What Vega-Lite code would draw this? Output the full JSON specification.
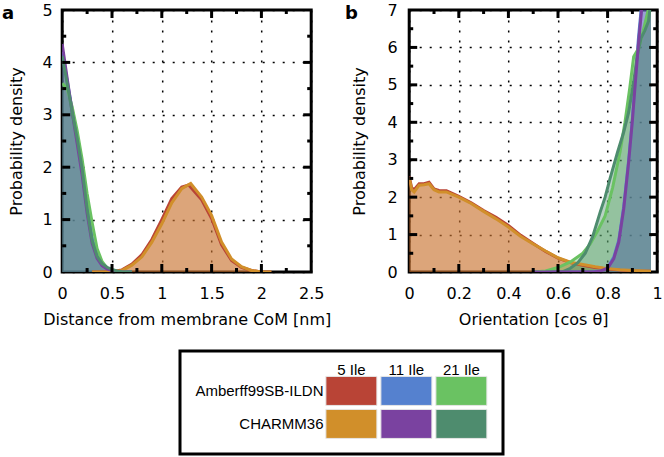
{
  "$schema": "https://vega.github.io/schema/vega-lite/v6.json",
  "background": "white",
  "padding": {"left": 0, "top": 0, "right": 0, "bottom": 0},
  "config": {
    "font": "DejaVu Sans",
    "view": {"stroke": "black", "strokeWidth": 3},
    "axis": {
      "labelFont": "DejaVu Sans", "labelFontSize": 16, "labelColor": "black",
      "titleFont": "DejaVu Sans", "titleFontSize": 16, "titleFontWeight": "normal", "titleColor": "black",
      "domain": false, "gridColor": "black", "gridDash": [2, 8], "gridWidth": 1.5, "gridOpacity": 1,
      "tickColor": "black", "labelFlush": false, "labelOverlap": false
    }
  },
  "datasets": {
    "a": [
      {"s": "A5", "x": 0.3, "y": 0}, {"s": "A5", "x": 0.4, "y": 0}, {"s": "A5", "x": 0.5, "y": 0.01}, {"s": "A5", "x": 0.6, "y": 0.04}, {"s": "A5", "x": 0.7, "y": 0.15}, {"s": "A5", "x": 0.8, "y": 0.33}, {"s": "A5", "x": 0.9, "y": 0.62}, {"s": "A5", "x": 1.0, "y": 1.0}, {"s": "A5", "x": 1.1, "y": 1.4}, {"s": "A5", "x": 1.2, "y": 1.62}, {"s": "A5", "x": 1.27, "y": 1.66}, {"s": "A5", "x": 1.4, "y": 1.38}, {"s": "A5", "x": 1.5, "y": 1.02}, {"s": "A5", "x": 1.6, "y": 0.52}, {"s": "A5", "x": 1.7, "y": 0.22}, {"s": "A5", "x": 1.8, "y": 0.09}, {"s": "A5", "x": 1.9, "y": 0.03}, {"s": "A5", "x": 2.0, "y": 0}, {"s": "A5", "x": 2.1, "y": 0},
      {"s": "C5", "x": 0.3, "y": 0}, {"s": "C5", "x": 0.4, "y": 0}, {"s": "C5", "x": 0.5, "y": 0.005}, {"s": "C5", "x": 0.6, "y": 0.03}, {"s": "C5", "x": 0.7, "y": 0.13}, {"s": "C5", "x": 0.8, "y": 0.29}, {"s": "C5", "x": 0.9, "y": 0.57}, {"s": "C5", "x": 1.0, "y": 0.92}, {"s": "C5", "x": 1.1, "y": 1.32}, {"s": "C5", "x": 1.2, "y": 1.59}, {"s": "C5", "x": 1.29, "y": 1.69}, {"s": "C5", "x": 1.4, "y": 1.43}, {"s": "C5", "x": 1.5, "y": 1.08}, {"s": "C5", "x": 1.6, "y": 0.57}, {"s": "C5", "x": 1.7, "y": 0.25}, {"s": "C5", "x": 1.8, "y": 0.1}, {"s": "C5", "x": 1.9, "y": 0.03}, {"s": "C5", "x": 2.0, "y": 0}, {"s": "C5", "x": 2.1, "y": 0},
      {"s": "A21", "x": 0, "y": 3.6}, {"s": "A21", "x": 0.05, "y": 3.5}, {"s": "A21", "x": 0.1, "y": 3.15}, {"s": "A21", "x": 0.15, "y": 2.7}, {"s": "A21", "x": 0.2, "y": 2.15}, {"s": "A21", "x": 0.25, "y": 1.5}, {"s": "A21", "x": 0.3, "y": 0.95}, {"s": "A21", "x": 0.35, "y": 0.45}, {"s": "A21", "x": 0.4, "y": 0.2}, {"s": "A21", "x": 0.45, "y": 0.08}, {"s": "A21", "x": 0.5, "y": 0.03}, {"s": "A21", "x": 0.55, "y": 0.01}, {"s": "A21", "x": 0.6, "y": 0}, {"s": "A21", "x": 0.7, "y": 0},
      {"s": "C11", "x": 0, "y": 4.35}, {"s": "C11", "x": 0.05, "y": 3.7}, {"s": "C11", "x": 0.1, "y": 3.05}, {"s": "C11", "x": 0.15, "y": 2.45}, {"s": "C11", "x": 0.2, "y": 1.85}, {"s": "C11", "x": 0.25, "y": 1.12}, {"s": "C11", "x": 0.3, "y": 0.55}, {"s": "C11", "x": 0.35, "y": 0.26}, {"s": "C11", "x": 0.4, "y": 0.12}, {"s": "C11", "x": 0.45, "y": 0.06}, {"s": "C11", "x": 0.5, "y": 0.03}, {"s": "C11", "x": 0.55, "y": 0.01}, {"s": "C11", "x": 0.6, "y": 0}, {"s": "C11", "x": 0.7, "y": 0},
      {"s": "A11", "x": 0, "y": 4.2}, {"s": "A11", "x": 0.05, "y": 3.65}, {"s": "A11", "x": 0.1, "y": 3.1}, {"s": "A11", "x": 0.15, "y": 2.55}, {"s": "A11", "x": 0.2, "y": 2.0}, {"s": "A11", "x": 0.25, "y": 1.3}, {"s": "A11", "x": 0.3, "y": 0.65}, {"s": "A11", "x": 0.35, "y": 0.32}, {"s": "A11", "x": 0.4, "y": 0.15}, {"s": "A11", "x": 0.45, "y": 0.07}, {"s": "A11", "x": 0.5, "y": 0.03}, {"s": "A11", "x": 0.55, "y": 0.01}, {"s": "A11", "x": 0.6, "y": 0}, {"s": "A11", "x": 0.7, "y": 0},
      {"s": "C21", "x": 0, "y": 4.12}, {"s": "C21", "x": 0.05, "y": 3.6}, {"s": "C21", "x": 0.1, "y": 3.05}, {"s": "C21", "x": 0.15, "y": 2.55}, {"s": "C21", "x": 0.2, "y": 1.97}, {"s": "C21", "x": 0.25, "y": 1.2}, {"s": "C21", "x": 0.3, "y": 0.6}, {"s": "C21", "x": 0.35, "y": 0.3}, {"s": "C21", "x": 0.4, "y": 0.16}, {"s": "C21", "x": 0.45, "y": 0.09}, {"s": "C21", "x": 0.5, "y": 0.05}, {"s": "C21", "x": 0.55, "y": 0.02}, {"s": "C21", "x": 0.6, "y": 0.005}, {"s": "C21", "x": 0.7, "y": 0}
    ],
    "b": [
      {"s": "A5", "x": 0, "y": 2.55}, {"s": "A5", "x": 0.01, "y": 2.25}, {"s": "A5", "x": 0.02, "y": 2.2}, {"s": "A5", "x": 0.04, "y": 2.36}, {"s": "A5", "x": 0.06, "y": 2.36}, {"s": "A5", "x": 0.08, "y": 2.4}, {"s": "A5", "x": 0.1, "y": 2.22}, {"s": "A5", "x": 0.12, "y": 2.18}, {"s": "A5", "x": 0.15, "y": 2.17}, {"s": "A5", "x": 0.2, "y": 2.02}, {"s": "A5", "x": 0.25, "y": 1.85}, {"s": "A5", "x": 0.3, "y": 1.64}, {"s": "A5", "x": 0.35, "y": 1.46}, {"s": "A5", "x": 0.4, "y": 1.24}, {"s": "A5", "x": 0.45, "y": 0.98}, {"s": "A5", "x": 0.5, "y": 0.76}, {"s": "A5", "x": 0.55, "y": 0.55}, {"s": "A5", "x": 0.6, "y": 0.37}, {"s": "A5", "x": 0.65, "y": 0.25}, {"s": "A5", "x": 0.7, "y": 0.18}, {"s": "A5", "x": 0.75, "y": 0.12}, {"s": "A5", "x": 0.8, "y": 0.08}, {"s": "A5", "x": 0.85, "y": 0.05}, {"s": "A5", "x": 0.9, "y": 0.03}, {"s": "A5", "x": 0.95, "y": 0.02}, {"s": "A5", "x": 0.975, "y": 0.02},
      {"s": "C5", "x": 0, "y": 2.52}, {"s": "C5", "x": 0.01, "y": 2.2}, {"s": "C5", "x": 0.02, "y": 2.14}, {"s": "C5", "x": 0.04, "y": 2.32}, {"s": "C5", "x": 0.06, "y": 2.33}, {"s": "C5", "x": 0.08, "y": 2.36}, {"s": "C5", "x": 0.1, "y": 2.2}, {"s": "C5", "x": 0.12, "y": 2.14}, {"s": "C5", "x": 0.15, "y": 2.14}, {"s": "C5", "x": 0.2, "y": 2.0}, {"s": "C5", "x": 0.25, "y": 1.83}, {"s": "C5", "x": 0.3, "y": 1.62}, {"s": "C5", "x": 0.35, "y": 1.42}, {"s": "C5", "x": 0.4, "y": 1.2}, {"s": "C5", "x": 0.45, "y": 0.95}, {"s": "C5", "x": 0.5, "y": 0.75}, {"s": "C5", "x": 0.55, "y": 0.56}, {"s": "C5", "x": 0.6, "y": 0.38}, {"s": "C5", "x": 0.65, "y": 0.26}, {"s": "C5", "x": 0.7, "y": 0.2}, {"s": "C5", "x": 0.75, "y": 0.14}, {"s": "C5", "x": 0.8, "y": 0.09}, {"s": "C5", "x": 0.85, "y": 0.06}, {"s": "C5", "x": 0.9, "y": 0.04}, {"s": "C5", "x": 0.95, "y": 0.03}, {"s": "C5", "x": 0.975, "y": 0.02},
      {"s": "A21", "x": 0.5, "y": 0}, {"s": "A21", "x": 0.55, "y": 0.03}, {"s": "A21", "x": 0.6, "y": 0.12}, {"s": "A21", "x": 0.65, "y": 0.27}, {"s": "A21", "x": 0.7, "y": 0.5}, {"s": "A21", "x": 0.73, "y": 0.75}, {"s": "A21", "x": 0.76, "y": 1.1}, {"s": "A21", "x": 0.79, "y": 1.5}, {"s": "A21", "x": 0.82, "y": 2.25}, {"s": "A21", "x": 0.85, "y": 3.2}, {"s": "A21", "x": 0.87, "y": 4.0}, {"s": "A21", "x": 0.89, "y": 4.95}, {"s": "A21", "x": 0.905, "y": 5.75}, {"s": "A21", "x": 0.925, "y": 5.98}, {"s": "A21", "x": 0.94, "y": 6.35}, {"s": "A21", "x": 0.96, "y": 6.9}, {"s": "A21", "x": 0.975, "y": 7.3},
      {"s": "C11", "x": 0.5, "y": 0}, {"s": "C11", "x": 0.7, "y": 0}, {"s": "C11", "x": 0.74, "y": 0}, {"s": "C11", "x": 0.77, "y": 0.02}, {"s": "C11", "x": 0.8, "y": 0.1}, {"s": "C11", "x": 0.825, "y": 0.36}, {"s": "C11", "x": 0.845, "y": 0.8}, {"s": "C11", "x": 0.865, "y": 1.69}, {"s": "C11", "x": 0.885, "y": 2.94}, {"s": "C11", "x": 0.9, "y": 4.05}, {"s": "C11", "x": 0.912, "y": 5.07}, {"s": "C11", "x": 0.925, "y": 6.14}, {"s": "C11", "x": 0.935, "y": 6.85}, {"s": "C11", "x": 0.95, "y": 8.0}, {"s": "C11", "x": 0.975, "y": 9.5},
      {"s": "A11", "x": 0.5, "y": 0}, {"s": "A11", "x": 0.7, "y": 0}, {"s": "A11", "x": 0.74, "y": 0.005}, {"s": "A11", "x": 0.77, "y": 0.03}, {"s": "A11", "x": 0.8, "y": 0.12}, {"s": "A11", "x": 0.825, "y": 0.4}, {"s": "A11", "x": 0.845, "y": 0.85}, {"s": "A11", "x": 0.865, "y": 1.75}, {"s": "A11", "x": 0.885, "y": 3.0}, {"s": "A11", "x": 0.9, "y": 4.1}, {"s": "A11", "x": 0.912, "y": 5.2}, {"s": "A11", "x": 0.925, "y": 6.3}, {"s": "A11", "x": 0.935, "y": 7.0}, {"s": "A11", "x": 0.95, "y": 8.1}, {"s": "A11", "x": 0.975, "y": 9.6},
      {"s": "C21", "x": 0.55, "y": 0}, {"s": "C21", "x": 0.62, "y": 0.01}, {"s": "C21", "x": 0.65, "y": 0.1}, {"s": "C21", "x": 0.68, "y": 0.25}, {"s": "C21", "x": 0.71, "y": 0.5}, {"s": "C21", "x": 0.74, "y": 0.95}, {"s": "C21", "x": 0.77, "y": 1.6}, {"s": "C21", "x": 0.79, "y": 2.0}, {"s": "C21", "x": 0.81, "y": 2.5}, {"s": "C21", "x": 0.84, "y": 3.2}, {"s": "C21", "x": 0.865, "y": 3.74}, {"s": "C21", "x": 0.885, "y": 4.27}, {"s": "C21", "x": 0.905, "y": 5.08}, {"s": "C21", "x": 0.92, "y": 5.8}, {"s": "C21", "x": 0.935, "y": 6.25}, {"s": "C21", "x": 0.95, "y": 6.45}, {"s": "C21", "x": 0.965, "y": 6.7}, {"s": "C21", "x": 0.975, "y": 7.3}
    ],
    "ka": [
      {"ax": "x", "k": "major", "v": 0.5}, {"ax": "x", "k": "major", "v": 1}, {"ax": "x", "k": "major", "v": 1.5}, {"ax": "x", "k": "major", "v": 2},
      {"ax": "x", "k": "minor", "v": 0.25}, {"ax": "x", "k": "minor", "v": 0.75}, {"ax": "x", "k": "minor", "v": 1.25}, {"ax": "x", "k": "minor", "v": 1.75}, {"ax": "x", "k": "minor", "v": 2.25},
      {"ax": "y", "k": "major", "v": 1}, {"ax": "y", "k": "major", "v": 2}, {"ax": "y", "k": "major", "v": 3}, {"ax": "y", "k": "major", "v": 4},
      {"ax": "y", "k": "minor", "v": 0.5}, {"ax": "y", "k": "minor", "v": 1.5}, {"ax": "y", "k": "minor", "v": 2.5}, {"ax": "y", "k": "minor", "v": 3.5}, {"ax": "y", "k": "minor", "v": 4.5}
    ],
    "kb": [
      {"ax": "x", "k": "major", "v": 0.2}, {"ax": "x", "k": "major", "v": 0.4}, {"ax": "x", "k": "major", "v": 0.6}, {"ax": "x", "k": "major", "v": 0.8},
      {"ax": "x", "k": "minor", "v": 0.1}, {"ax": "x", "k": "minor", "v": 0.3}, {"ax": "x", "k": "minor", "v": 0.5}, {"ax": "x", "k": "minor", "v": 0.7}, {"ax": "x", "k": "minor", "v": 0.9},
      {"ax": "y", "k": "major", "v": 1}, {"ax": "y", "k": "major", "v": 2}, {"ax": "y", "k": "major", "v": 3}, {"ax": "y", "k": "major", "v": 4}, {"ax": "y", "k": "major", "v": 5}, {"ax": "y", "k": "major", "v": 6},
      {"ax": "y", "k": "minor", "v": 0.5}, {"ax": "y", "k": "minor", "v": 1.5}, {"ax": "y", "k": "minor", "v": 2.5}, {"ax": "y", "k": "minor", "v": 3.5}, {"ax": "y", "k": "minor", "v": 4.5}, {"ax": "y", "k": "minor", "v": 5.5}, {"ax": "y", "k": "minor", "v": 6.5}
    ]
  },
  "center": true,
  "spacing": 20,
  "vconcat": [
    {
      "spacing": 10,
      "hconcat": [
        {
          "width": 249, "height": 262,
          "title": {"text": "a", "anchor": "start", "frame": "bounds", "offset": -21, "dx": -6, "fontSize": 18, "fontWeight": "bold", "font": "DejaVu Sans", "color": "black"},
          "resolve": {"axis": {"x": "independent", "y": "independent"}},
          "layer": [
            {
              "data": {"name": "a"},
              "mark": {"type": "area", "opacity": 0.4, "clip": true},
              "encoding": {
                "x": {"field": "x", "type": "quantitative", "scale": {"domain": [0, 2.5], "nice": false, "zero": false},
                      "axis": {"title": "Distance from membrane CoM [nm]", "values": [0, 0.5, 1, 1.5, 2, 2.5], "format": "~g", "ticks": false, "grid": true, "labelPadding": 13, "titlePadding": 10}},
                "y": {"field": "y", "type": "quantitative", "stack": null, "scale": {"domain": [0, 5], "nice": false},
                      "axis": {"title": "Probability density", "values": [0, 1, 2, 3, 4, 5], "format": "~g", "ticks": false, "grid": true, "labelPadding": 10, "titlePadding": 18}},
                "color": {"field": "s", "type": "nominal", "legend": null,
                          "scale": {"domain": ["A5", "C5", "A21", "C11", "A11", "C21"], "range": ["#B94436", "#D18F2A", "#6AC262", "#7A42A0", "#5581CF", "#4E8C6E"]}}
              }
            },
            {
              "data": {"name": "a"},
              "transform": [{"filter": {"field": "s", "oneOf": ["A5", "A11"]}}],
              "mark": {"type": "line", "strokeWidth": 3, "clip": true},
              "encoding": {
                "x": {"field": "x", "type": "quantitative", "axis": null},
                "y": {"field": "y", "type": "quantitative", "axis": null},
                "color": {"field": "s", "type": "nominal", "legend": null}
              }
            },
            {
              "data": {"name": "a"},
              "transform": [{"filter": {"field": "s", "oneOf": ["C5", "A21", "C11"]}}],
              "mark": {"type": "line", "strokeWidth": 3, "clip": true},
              "encoding": {
                "x": {"field": "x", "type": "quantitative", "axis": null},
                "y": {"field": "y", "type": "quantitative", "axis": null},
                "color": {"field": "s", "type": "nominal", "legend": null}
              }
            },
            {
              "data": {"name": "a"},
              "transform": [{"filter": {"field": "s", "oneOf": ["C21"]}}],
              "mark": {"type": "line", "strokeWidth": 3, "clip": true},
              "encoding": {
                "x": {"field": "x", "type": "quantitative", "axis": null},
                "y": {"field": "y", "type": "quantitative", "axis": null},
                "color": {"field": "s", "type": "nominal", "legend": null}
              }
            },
            {
              "data": {"name": "ka"}, "transform": [{"filter": "datum.ax == 'x' && datum.k == 'major'"}],
              "mark": {"type": "tick", "orient": "vertical", "size": 8, "thickness": 3, "color": "black", "opacity": 1, "yOffset": -4},
              "encoding": {"x": {"field": "v", "type": "quantitative", "axis": null}, "y": {"datum": 0, "type": "quantitative", "axis": null}}
            },
            {
              "data": {"name": "ka"}, "transform": [{"filter": "datum.ax == 'x' && datum.k == 'major'"}],
              "mark": {"type": "tick", "orient": "vertical", "size": 8, "thickness": 3, "color": "black", "opacity": 1, "yOffset": 4},
              "encoding": {"x": {"field": "v", "type": "quantitative", "axis": null}, "y": {"datum": 5, "type": "quantitative", "axis": null}}
            },
            {
              "data": {"name": "ka"}, "transform": [{"filter": "datum.ax == 'x' && datum.k == 'minor'"}],
              "mark": {"type": "tick", "orient": "vertical", "size": 4, "thickness": 3, "color": "black", "opacity": 1, "yOffset": -2},
              "encoding": {"x": {"field": "v", "type": "quantitative", "axis": null}, "y": {"datum": 0, "type": "quantitative", "axis": null}}
            },
            {
              "data": {"name": "ka"}, "transform": [{"filter": "datum.ax == 'x' && datum.k == 'minor'"}],
              "mark": {"type": "tick", "orient": "vertical", "size": 4, "thickness": 3, "color": "black", "opacity": 1, "yOffset": 2},
              "encoding": {"x": {"field": "v", "type": "quantitative", "axis": null}, "y": {"datum": 5, "type": "quantitative", "axis": null}}
            },
            {
              "data": {"name": "ka"}, "transform": [{"filter": "datum.ax == 'y' && datum.k == 'major'"}],
              "mark": {"type": "tick", "orient": "horizontal", "size": 8, "thickness": 3, "color": "black", "opacity": 1, "xOffset": 4},
              "encoding": {"y": {"field": "v", "type": "quantitative", "axis": null}, "x": {"datum": 0, "type": "quantitative", "axis": null}}
            },
            {
              "data": {"name": "ka"}, "transform": [{"filter": "datum.ax == 'y' && datum.k == 'major'"}],
              "mark": {"type": "tick", "orient": "horizontal", "size": 8, "thickness": 3, "color": "black", "opacity": 1, "xOffset": -4},
              "encoding": {"y": {"field": "v", "type": "quantitative", "axis": null}, "x": {"datum": 2.5, "type": "quantitative", "axis": null}}
            },
            {
              "data": {"name": "ka"}, "transform": [{"filter": "datum.ax == 'y' && datum.k == 'minor'"}],
              "mark": {"type": "tick", "orient": "horizontal", "size": 4, "thickness": 3, "color": "black", "opacity": 1, "xOffset": 2},
              "encoding": {"y": {"field": "v", "type": "quantitative", "axis": null}, "x": {"datum": 0, "type": "quantitative", "axis": null}}
            },
            {
              "data": {"name": "ka"}, "transform": [{"filter": "datum.ax == 'y' && datum.k == 'minor'"}],
              "mark": {"type": "tick", "orient": "horizontal", "size": 4, "thickness": 3, "color": "black", "opacity": 1, "xOffset": -2},
              "encoding": {"y": {"field": "v", "type": "quantitative", "axis": null}, "x": {"datum": 2.5, "type": "quantitative", "axis": null}}
            }
          ]
        },
        {
          "width": 248, "height": 262,
          "title": {"text": "b", "anchor": "start", "frame": "bounds", "offset": -21, "dx": -6, "fontSize": 18, "fontWeight": "bold", "font": "DejaVu Sans", "color": "black"},
          "resolve": {"axis": {"x": "independent", "y": "independent"}},
          "layer": [
            {
              "data": {"name": "b"},
              "mark": {"type": "area", "opacity": 0.4, "clip": true},
              "encoding": {
                "x": {"field": "x", "type": "quantitative", "scale": {"domain": [0, 1], "nice": false, "zero": false},
                      "axis": {"title": "Orientation [cos θ]", "values": [0, 0.2, 0.4, 0.6, 0.8, 1], "format": "~g", "ticks": false, "grid": true, "labelPadding": 13, "titlePadding": 10}},
                "y": {"field": "y", "type": "quantitative", "stack": null, "scale": {"domain": [0, 7], "nice": false},
                      "axis": {"title": "Probability density", "values": [0, 1, 2, 3, 4, 5, 6, 7], "format": "~g", "ticks": false, "grid": true, "labelPadding": 12, "titlePadding": 20}},
                "color": {"field": "s", "type": "nominal", "legend": null,
                          "scale": {"domain": ["A5", "C5", "A21", "C11", "A11", "C21"], "range": ["#B94436", "#D18F2A", "#6AC262", "#7A42A0", "#5581CF", "#4E8C6E"]}}
              }
            },
            {
              "data": {"name": "b"},
              "transform": [{"filter": {"field": "s", "oneOf": ["A5", "A11"]}}],
              "mark": {"type": "line", "strokeWidth": 3, "clip": true},
              "encoding": {
                "x": {"field": "x", "type": "quantitative", "axis": null},
                "y": {"field": "y", "type": "quantitative", "axis": null},
                "color": {"field": "s", "type": "nominal", "legend": null}
              }
            },
            {
              "data": {"name": "b"},
              "transform": [{"filter": {"field": "s", "oneOf": ["C5", "A21", "C21"]}}],
              "mark": {"type": "line", "strokeWidth": 3, "clip": true},
              "encoding": {
                "x": {"field": "x", "type": "quantitative", "axis": null},
                "y": {"field": "y", "type": "quantitative", "axis": null},
                "color": {"field": "s", "type": "nominal", "legend": null}
              }
            },
            {
              "data": {"name": "b"},
              "transform": [{"filter": {"field": "s", "oneOf": ["C11"]}}],
              "mark": {"type": "line", "strokeWidth": 3, "clip": true},
              "encoding": {
                "x": {"field": "x", "type": "quantitative", "axis": null},
                "y": {"field": "y", "type": "quantitative", "axis": null},
                "color": {"field": "s", "type": "nominal", "legend": null}
              }
            },
            {
              "data": {"name": "kb"}, "transform": [{"filter": "datum.ax == 'x' && datum.k == 'major'"}],
              "mark": {"type": "tick", "orient": "vertical", "size": 8, "thickness": 3, "color": "black", "opacity": 1, "yOffset": -4},
              "encoding": {"x": {"field": "v", "type": "quantitative", "axis": null}, "y": {"datum": 0, "type": "quantitative", "axis": null}}
            },
            {
              "data": {"name": "kb"}, "transform": [{"filter": "datum.ax == 'x' && datum.k == 'major'"}],
              "mark": {"type": "tick", "orient": "vertical", "size": 8, "thickness": 3, "color": "black", "opacity": 1, "yOffset": 4},
              "encoding": {"x": {"field": "v", "type": "quantitative", "axis": null}, "y": {"datum": 7, "type": "quantitative", "axis": null}}
            },
            {
              "data": {"name": "kb"}, "transform": [{"filter": "datum.ax == 'x' && datum.k == 'minor'"}],
              "mark": {"type": "tick", "orient": "vertical", "size": 4, "thickness": 3, "color": "black", "opacity": 1, "yOffset": -2},
              "encoding": {"x": {"field": "v", "type": "quantitative", "axis": null}, "y": {"datum": 0, "type": "quantitative", "axis": null}}
            },
            {
              "data": {"name": "kb"}, "transform": [{"filter": "datum.ax == 'x' && datum.k == 'minor'"}],
              "mark": {"type": "tick", "orient": "vertical", "size": 4, "thickness": 3, "color": "black", "opacity": 1, "yOffset": 2},
              "encoding": {"x": {"field": "v", "type": "quantitative", "axis": null}, "y": {"datum": 7, "type": "quantitative", "axis": null}}
            },
            {
              "data": {"name": "kb"}, "transform": [{"filter": "datum.ax == 'y' && datum.k == 'major'"}],
              "mark": {"type": "tick", "orient": "horizontal", "size": 8, "thickness": 3, "color": "black", "opacity": 1, "xOffset": 4},
              "encoding": {"y": {"field": "v", "type": "quantitative", "axis": null}, "x": {"datum": 0, "type": "quantitative", "axis": null}}
            },
            {
              "data": {"name": "kb"}, "transform": [{"filter": "datum.ax == 'y' && datum.k == 'major'"}],
              "mark": {"type": "tick", "orient": "horizontal", "size": 8, "thickness": 3, "color": "black", "opacity": 1, "xOffset": -4},
              "encoding": {"y": {"field": "v", "type": "quantitative", "axis": null}, "x": {"datum": 1, "type": "quantitative", "axis": null}}
            },
            {
              "data": {"name": "kb"}, "transform": [{"filter": "datum.ax == 'y' && datum.k == 'minor'"}],
              "mark": {"type": "tick", "orient": "horizontal", "size": 4, "thickness": 3, "color": "black", "opacity": 1, "xOffset": 2},
              "encoding": {"y": {"field": "v", "type": "quantitative", "axis": null}, "x": {"datum": 0, "type": "quantitative", "axis": null}}
            },
            {
              "data": {"name": "kb"}, "transform": [{"filter": "datum.ax == 'y' && datum.k == 'minor'"}],
              "mark": {"type": "tick", "orient": "horizontal", "size": 4, "thickness": 3, "color": "black", "opacity": 1, "xOffset": -2},
              "encoding": {"y": {"field": "v", "type": "quantitative", "axis": null}, "x": {"datum": 1, "type": "quantitative", "axis": null}}
            }
          ]
        }
      ]
    },
    {
      "spacing": 10,
      "hconcat": [
        {
          "width": 323, "height": 103,
          "data": {"values": [
            {"ff": "Amberff99SB-ILDN", "pep": "5 Ile", "s": "A5"},
            {"ff": "Amberff99SB-ILDN", "pep": "11 Ile", "s": "A11"},
            {"ff": "Amberff99SB-ILDN", "pep": "21 Ile", "s": "A21"},
            {"ff": "CHARMM36", "pep": "5 Ile", "s": "C5"},
            {"ff": "CHARMM36", "pep": "11 Ile", "s": "C11"},
            {"ff": "CHARMM36", "pep": "21 Ile", "s": "C21"}
          ]},
          "mark": {"type": "rect", "stroke": "#e6e6e6", "strokeWidth": 1},
          "encoding": {
            "x": {"field": "pep", "type": "nominal",
                  "scale": {"domain": ["·1", "·2", "5 Ile", "11 Ile", "21 Ile"], "paddingInner": 0.0727, "paddingOuter": 0.473, "align": 0.69},
                  "axis": {"orient": "top", "offset": -28, "values": ["5 Ile", "11 Ile", "21 Ile"], "title": null, "ticks": false, "domain": false, "labelAngle": 0, "labelFont": "Liberation Sans", "labelFontSize": 15, "labelPadding": 2}},
            "y": {"field": "ff", "type": "nominal", "sort": ["Amberff99SB-ILDN", "CHARMM36"],
                  "scale": {"paddingInner": 0.121, "paddingOuter": 0.621, "align": 0.62},
                  "axis": {"orient": "left", "offset": -146, "title": null, "ticks": false, "domain": false, "labelFont": "Liberation Sans", "labelFontSize": 15, "labelPadding": 3}},
            "color": {"field": "s", "type": "nominal", "legend": null,
                      "scale": {"domain": ["A5", "C5", "A21", "C11", "A11", "C21"], "range": ["#B94436", "#D18F2A", "#6AC262", "#7A42A0", "#5581CF", "#4E8C6E"]}}
          }
        },
        {
          "width": 31, "height": 103,
          "view": {"stroke": null},
          "data": {"values": [{"t": ""}]},
          "mark": {"type": "text"},
          "encoding": {"text": {"field": "t", "type": "nominal"}}
        }
      ]
    }
  ]
}
